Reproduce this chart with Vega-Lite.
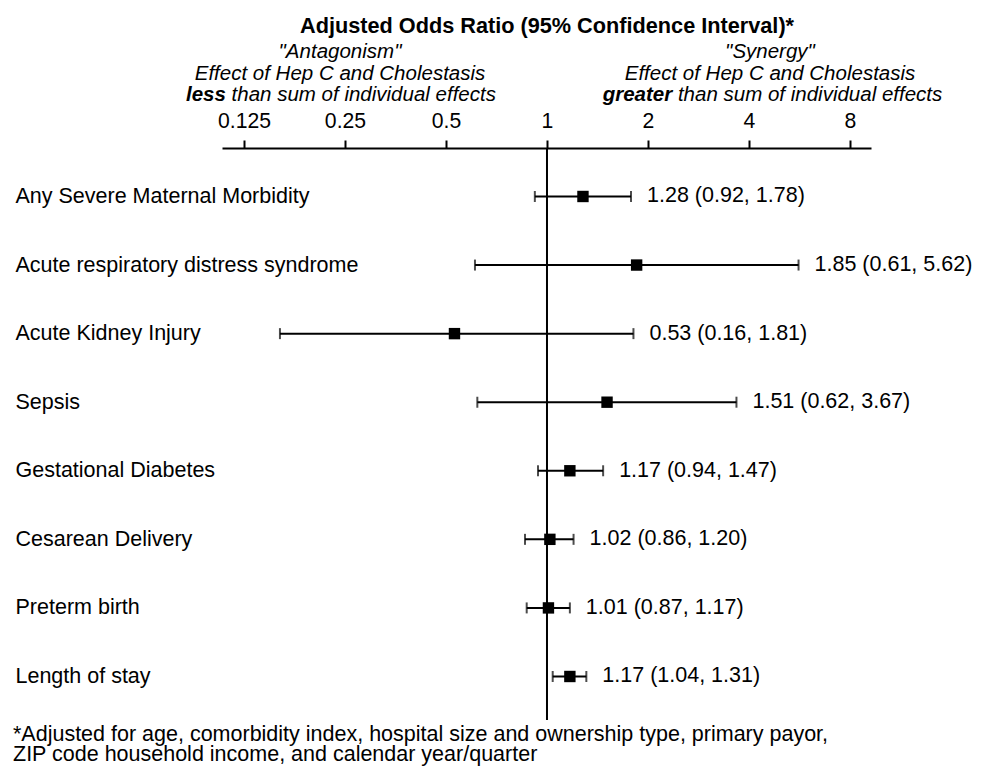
{
  "$schema": "https://vega.github.io/schema/vega-lite/v6.json",
  "width": 649,
  "height": 572,
  "autosize": "none",
  "padding": {"left": 222, "top": 148, "right": 118, "bottom": 47},
  "background": "white",
  "config": {"view": {"stroke": null}, "font": "Liberation Sans"},
  "title": {
    "text": ["*Adjusted for age, comorbidity index, hospital size and ownership type, primary payor,", "ZIP code household income, and calendar year/quarter"],
    "orient": "bottom",
    "anchor": "start",
    "frame": "group",
    "dx": -209,
    "dy": 3,
    "offset": 0,
    "fontSize": 21.5,
    "fontWeight": "normal",
    "color": "black",
    "lineHeight": 20,
    "font": "Liberation Sans"
  },
  "datasets": {
    "rows": [
      {"outcome": "Any Severe Maternal Morbidity", "or": 1.28, "lo": 0.92, "hi": 1.78, "label": "1.28 (0.92, 1.78)"},
      {"outcome": "Acute respiratory distress syndrome", "or": 1.85, "lo": 0.61, "hi": 5.62, "label": "1.85 (0.61, 5.62)"},
      {"outcome": "Acute Kidney Injury", "or": 0.53, "lo": 0.16, "hi": 1.81, "label": "0.53 (0.16, 1.81)"},
      {"outcome": "Sepsis", "or": 1.51, "lo": 0.62, "hi": 3.67, "label": "1.51 (0.62, 3.67)"},
      {"outcome": "Gestational Diabetes", "or": 1.17, "lo": 0.94, "hi": 1.47, "label": "1.17 (0.94, 1.47)"},
      {"outcome": "Cesarean Delivery", "or": 1.02, "lo": 0.86, "hi": 1.20, "label": "1.02 (0.86, 1.20)"},
      {"outcome": "Preterm birth", "or": 1.01, "lo": 0.87, "hi": 1.17, "label": "1.01 (0.87, 1.17)"},
      {"outcome": "Length of stay", "or": 1.17, "lo": 1.04, "hi": 1.31, "label": "1.17 (1.04, 1.31)"}
    ],
    "notes": [
      {"text": "\"Antagonism\"", "pos": 0.2416, "line": 1},
      {"text": "Effect of Hep C and Cholestasis", "pos": 0.2416, "line": 2},
      {"text": "\"Synergy\"", "pos": 4.62, "line": 1},
      {"text": "Effect of Hep C and Cholestasis", "pos": 4.62, "line": 2}
    ],
    "boldwords": [
      {"text": "less", "pos": 0.1104, "line": 3},
      {"text": "greater", "pos": 2.362, "line": 3}
    ],
    "rest": [
      {"text": "than sum of individual effects", "pos": 0.1148, "line": 3},
      {"text": "than sum of individual effects", "pos": 2.456, "line": 3}
    ],
    "ref": [{"value": 1}]
  },
  "resolve": {"scale": {"y": "independent"}},
  "layer": [
    {
      "data": {"name": "rows"},
      "encoding": {
        "y": {
          "field": "outcome",
          "type": "nominal",
          "sort": null,
          "scale": {"type": "point", "padding": 0.6708, "align": 0.527},
          "axis": {
            "orient": "left",
            "title": null,
            "domain": false,
            "ticks": false,
            "tickSize": 0,
            "labelAlign": "left",
            "labelPadding": 207,
            "labelFontSize": 21.5,
            "labelColor": "black",
            "labelLimit": 500
          }
        }
      },
      "layer": [
        {
          "mark": {"type": "rule", "strokeWidth": 2, "color": "black"},
          "encoding": {
            "x": {
              "field": "lo",
              "type": "quantitative",
              "scale": {"type": "log", "base": 2, "domain": [0.1075, 9.24], "nice": false},
              "axis": {
                "orient": "top",
                "values": [0.125, 0.25, 0.5, 1, 2, 4, 8],
                "labelExpr": "'' + datum.value",
                "title": "Adjusted Odds Ratio (95% Confidence Interval)*",
                "titleFontSize": 21.7,
                "titleFontWeight": "bold",
                "titleColor": "black",
                "titleX": 324.5,
                "titleY": -116,
                "titleBaseline": "alphabetic",
                "titleAlign": "center",
                "labelFontSize": 21.2,
                "labelColor": "black",
                "labelPadding": 9,
                "labelFlush": false,
                "labelOverlap": false,
                "tickColor": "black",
                "tickWidth": 2,
                "tickSize": 8,
                "domainColor": "black",
                "domainWidth": 2,
                "grid": false
              }
            },
            "x2": {"field": "hi"}
          }
        },
        {
          "mark": {"type": "tick", "thickness": 2, "size": 11, "color": "black"},
          "encoding": {"x": {"field": "lo", "type": "quantitative"}}
        },
        {
          "mark": {"type": "tick", "thickness": 2, "size": 11, "color": "black"},
          "encoding": {"x": {"field": "hi", "type": "quantitative"}}
        }
      ]
    },
    {
      "data": {"name": "ref"},
      "mark": {"type": "rule", "strokeWidth": 2, "color": "black"},
      "encoding": {"x": {"field": "value", "type": "quantitative"}}
    },
    {
      "data": {"name": "rows"},
      "encoding": {
        "y": {"field": "outcome", "type": "nominal", "sort": null, "scale": {"type": "point", "padding": 0.6708, "align": 0.527}, "axis": null}
      },
      "layer": [
        {
          "mark": {"type": "square", "size": 130, "filled": true, "color": "black", "opacity": 1},
          "encoding": {"x": {"field": "or", "type": "quantitative"}}
        },
        {
          "mark": {"type": "text", "align": "left", "baseline": "middle", "dx": 16, "fontSize": 21.5, "color": "black"},
          "encoding": {"x": {"field": "hi", "type": "quantitative"}, "text": {"field": "label"}}
        }
      ]
    },
    {
      "encoding": {
        "y": {"field": "line", "type": "quantitative", "scale": {"domain": [1, 3], "range": [-90, -47], "nice": false, "zero": false}, "axis": null},
        "x": {"field": "pos", "type": "quantitative"},
        "text": {"field": "text"}
      },
      "layer": [
        {
          "data": {"name": "notes"},
          "mark": {"type": "text", "align": "center", "baseline": "alphabetic", "fontSize": 20.5, "fontStyle": "italic", "color": "black"}
        },
        {
          "data": {"name": "boldwords"},
          "mark": {"type": "text", "align": "right", "baseline": "alphabetic", "fontSize": 20.5, "fontStyle": "italic", "fontWeight": "bold", "color": "black"}
        },
        {
          "data": {"name": "rest"},
          "mark": {"type": "text", "align": "left", "baseline": "alphabetic", "fontSize": 20.5, "fontStyle": "italic", "color": "black"}
        }
      ]
    }
  ]
}
